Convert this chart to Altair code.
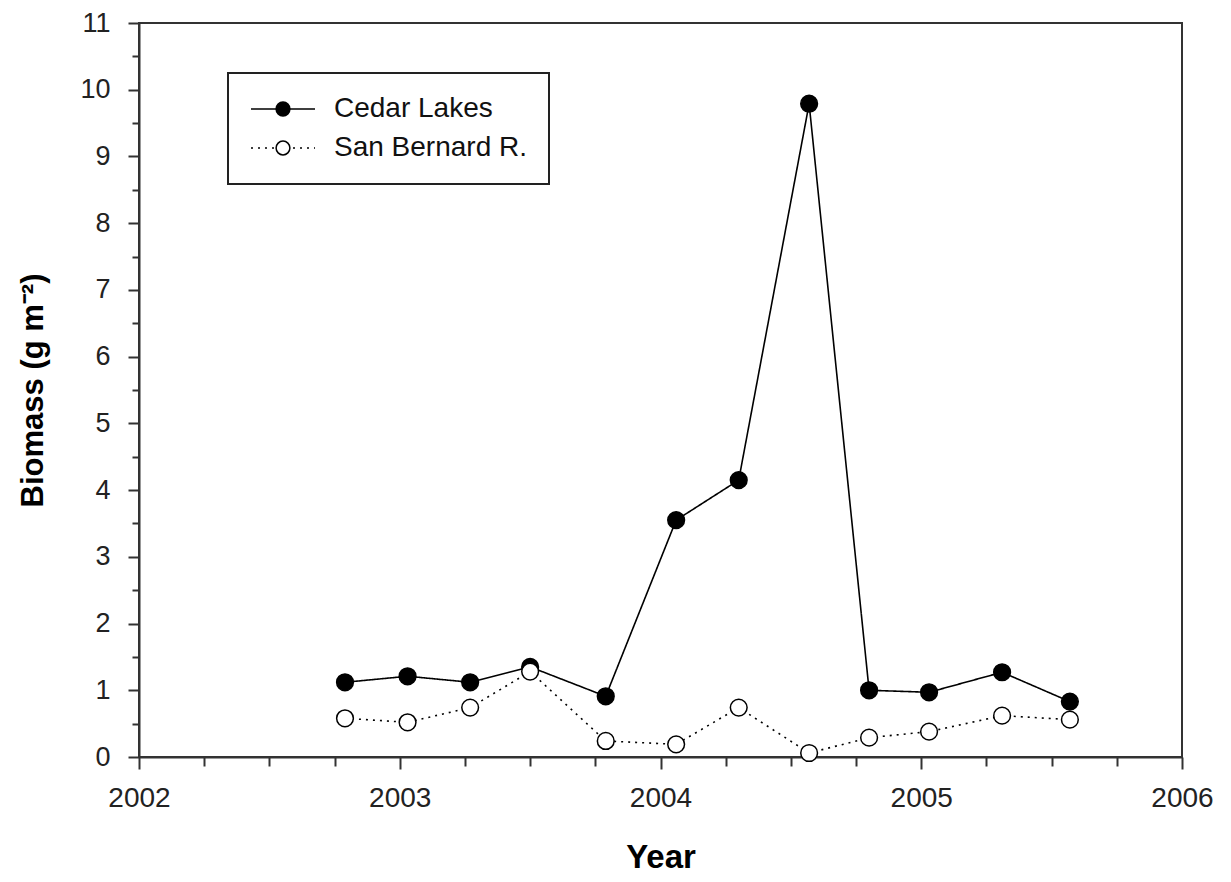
import altair as alt
import pandas as pd

# ---- data ----
years = [2002.79, 2003.03, 2003.27, 2003.50, 2003.79, 2004.06,
         2004.30, 2004.57, 2004.80, 2005.03, 2005.31, 2005.57]
cedar_lakes = [1.12, 1.21, 1.12, 1.35, 0.91, 3.55,
               4.15, 9.79, 1.00, 0.97, 1.27, 0.83]
san_bernard = [0.58, 0.52, 0.74, 1.28, 0.24, 0.19,
               0.74, 0.06, 0.29, 0.38, 0.62, 0.56]
series_names = ["Cedar Lakes", "San Bernard R."]
x_major = [2002, 2003, 2004, 2005, 2006]
x_minor = [2002.25, 2002.5, 2002.75, 2003.25, 2003.5, 2003.75,
           2004.25, 2004.5, 2004.75, 2005.25, 2005.5, 2005.75]
y_major = [0, 1, 2, 3, 4, 5, 6, 7, 8, 9, 10, 11]
y_minor = [0.5, 1.5, 2.5, 3.5, 4.5, 5.5, 6.5, 7.5, 8.5, 9.5, 10.5]

rows = []
for name, vals in zip(series_names, [cedar_lakes, san_bernard]):
    for yr, v in zip(years, vals):
        rows.append({"year": yr, "value": v, "series": name, "key": name})
df = pd.DataFrame(rows)

FONT = "Liberation Sans"
W, H = 1043, 734
AX = "#333333"

xscale = alt.Scale(domain=[2002, 2006], nice=False, zero=False)
yscale = alt.Scale(domain=[0, 11], nice=False, zero=True)

x_main = alt.X("year:Q", scale=xscale, axis=alt.Axis(
    orient="bottom", values=x_major, format="d", grid=False,
    tickSize=12, tickWidth=2, tickColor=AX, domainColor=AX, domainWidth=2,
    labelFont=FONT, labelFontSize=28, labelColor="#222", labelPadding=15,
    labelFlush=False, labelOverlap=False,
    title="Year", titleFont=FONT, titleFontSize=33, titleFontWeight="bold",
    titleColor="black", titleY=100, titleBaseline="middle"))
y_main = alt.Y("value:Q", scale=yscale, axis=alt.Axis(
    orient="left", values=y_major, format="d", grid=False,
    tickSize=11, tickWidth=2, tickColor=AX, domainColor=AX, domainWidth=2,
    labelFont=FONT, labelFontSize=27, labelColor="#222", labelPadding=18,
    labelFlush=False, labelOverlap=False,
    title="Biomass (g m⁻²)", titleFont=FONT, titleFontSize=31,
    titleFontWeight="bold", titleColor="black", titleAngle=270,
    titleX=-106, titleY=H / 2, titleBaseline="middle", titleAlign="center"))

lines = alt.Chart(df).mark_line(color="black", strokeWidth=1.6).encode(
    x=x_main,
    y=y_main,
    strokeDash=alt.StrokeDash("series:N", scale=alt.Scale(
        domain=series_names, range=[[1, 0], [2, 5]]),
        legend=alt.Legend(
            orient="none", legendX=89, legendY=50, title=None,
            symbolType="stroke", symbolSize=4096, symbolStrokeColor="black",
            symbolStrokeWidth=1.6, labelFont=FONT, labelFontSize=28,
            labelColor="#111", labelOffset=18, labelLimit=400,
            clipHeight=28, padding=22, rowPadding=11, strokeColor="#222",
            fillColor="white")),
)

points = alt.Chart(df).mark_point(
    shape="circle", filled=True, size=280, stroke="black",
    strokeWidth=1.5, opacity=1).encode(
    x=alt.X("year:Q", scale=xscale, axis=None),
    y=alt.Y("value:Q", scale=yscale, axis=None),
    fill=alt.Fill("key:N", scale=alt.Scale(range=["black", "white"]),
        legend=alt.Legend(
            orient="none", legendX=89, legendY=50, title=None,
            symbolType="circle", symbolSize=190, symbolStrokeColor="black",
            symbolStrokeWidth=1.5, symbolOffset=25,
            labelExpr="''", labelFontSize=1,
            clipHeight=28, padding=22, rowPadding=11, strokeColor="transparent")),
)

minor = alt.Chart(df).mark_point(opacity=0).encode(
    x=alt.X("year:Q", scale=xscale, axis=alt.Axis(
        orient="bottom", values=x_minor, labels=False, domain=False,
        grid=False, tickSize=9, tickWidth=2, tickColor=AX, title=None)),
    y=alt.Y("value:Q", scale=yscale, axis=alt.Axis(
        orient="left", values=y_minor, labels=False, domain=False,
        grid=False, tickSize=7, tickWidth=2, tickColor=AX, title=None)),
)

chart = alt.layer(minor, lines, points).resolve_axis(
    x="independent", y="independent"
).properties(
    width=W, height=H,
    autosize=alt.AutoSizeParams(type="none"),
    padding={"left": 131, "top": 15, "right": 40, "bottom": 117},
    background="white",
).configure_view(stroke=AX, strokeWidth=2).configure_legend(strokeWidth=2)

chart.save("out.html", embed_options={"renderer": "svg", "actions": False})
